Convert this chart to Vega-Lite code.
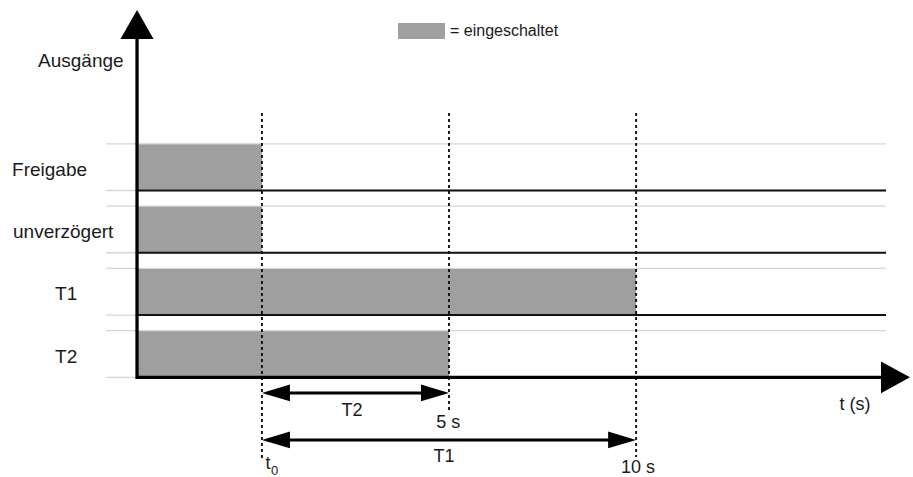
{
  "$schema": "https://vega.github.io/schema/vega-lite/v6.json",
  "width": 913,
  "height": 477,
  "padding": 0,
  "autosize": {"type": "none"},
  "background": "white",
  "config": {"view": {"stroke": null}, "text": {"font": "Liberation Sans", "color": "#1a1a1a"}},
  "datasets": {
    "grid": [{"y": 3.75}, {"y": 3}, {"y": 2.75}, {"y": 2}, {"y": 1.75}, {"y": 1}, {"y": 0.75}, {"y": 0}],
    "bars": [
      {"signal": "Freigabe", "start": -3.338, "end": 0, "lo": 3, "hi": 3.75},
      {"signal": "unverzögert", "start": -3.338, "end": 0, "lo": 2, "hi": 2.75},
      {"signal": "T1", "start": -3.338, "end": 10, "lo": 1, "hi": 1.75},
      {"signal": "T2", "start": -3.338, "end": 5, "lo": 0, "hi": 0.75}
    ],
    "swatch": [{"start": 3.637, "end": 4.893, "lo": 5.434, "hi": 5.691}],
    "baselines": [{"y": 3}, {"y": 2}, {"y": 1}],
    "vdash": [
      {"t": 0, "top": 4.245, "bottom": -1.294},
      {"t": 5, "top": 4.245, "bottom": -0.572},
      {"t": 10, "top": 4.245, "bottom": -1.278}
    ],
    "spans": [
      {"name": "T2", "start": 0.15, "end": 4.85, "y": -0.2505},
      {"name": "T1", "start": 0.15, "end": 9.85, "y": -1.005}
    ],
    "heads": [
      {"kind": "right", "x": 5, "y": -0.2505},
      {"kind": "left", "x": 0, "y": -0.2505},
      {"kind": "right", "x": 10, "y": -1.005},
      {"kind": "left", "x": 0, "y": -1.005}
    ],
    "leftLabels": [
      {"label": "Ausgänge", "x": -5.984, "y": 4.99},
      {"label": "Freigabe", "x": -6.678, "y": 3.234},
      {"label": "unverzögert", "x": -6.652, "y": 2.234},
      {"label": "T1", "x": -5.529, "y": 1.243},
      {"label": "T2", "x": -5.529, "y": 0.226}
    ],
    "centerLabels": [
      {"label": "T2", "x": 2.408, "y": -0.62},
      {"label": "5 s", "x": 4.98, "y": -0.817},
      {"label": "T1", "x": 4.867, "y": -1.354},
      {"label": "10 s", "x": 10.05, "y": -1.535},
      {"label": "t (s)", "x": 15.85, "y": -0.524},
      {"label": "t", "x": 0.16, "y": -1.47}
    ]
  },
  "layer": [
    {
      "data": {"name": "bars"},
      "mark": {"type": "rect", "color": "#9f9f9f"},
      "encoding": {
        "x": {"field": "start", "type": "quantitative", "scale": {"domain": [-7, 17.4], "nice": false, "zero": false}, "axis": null},
        "x2": {"field": "end"},
        "y": {"field": "lo", "type": "quantitative", "scale": {"domain": [-1.6, 6.06], "nice": false, "zero": false}, "axis": null},
        "y2": {"field": "hi"}
      }
    },
    {
      "data": {"name": "swatch"},
      "mark": {"type": "rect", "color": "#9f9f9f"},
      "encoding": {
        "x": {"field": "start", "type": "quantitative"},
        "x2": {"field": "end"},
        "y": {"field": "lo", "type": "quantitative"},
        "y2": {"field": "hi"}
      }
    },
    {
      "data": {"name": "grid"},
      "mark": {"type": "rule", "color": "#d6d6d6", "strokeWidth": 1.4},
      "encoding": {
        "x": {"datum": -4.166, "type": "quantitative"},
        "x2": {"datum": 16.679},
        "y": {"field": "y", "type": "quantitative"}
      }
    },
    {
      "data": {"name": "baselines"},
      "mark": {"type": "rule", "color": "#111111", "strokeWidth": 2},
      "encoding": {
        "x": {"datum": -3.338, "type": "quantitative"},
        "x2": {"datum": 16.679},
        "y": {"field": "y", "type": "quantitative"}
      }
    },
    {
      "data": {"name": "vdash"},
      "mark": {"type": "rule", "color": "#111111", "strokeWidth": 1.9, "strokeDash": [3, 3]},
      "encoding": {
        "x": {"field": "t", "type": "quantitative"},
        "y": {"field": "top", "type": "quantitative"},
        "y2": {"field": "bottom"}
      }
    },
    {
      "data": {"values": [{"axis": "t"}]},
      "mark": {"type": "rule", "color": "#000000", "strokeWidth": 3.3},
      "encoding": {
        "x": {"datum": -3.338, "type": "quantitative"},
        "x2": {"datum": 16.8},
        "y": {"datum": 0, "type": "quantitative"}
      }
    },
    {
      "data": {"values": [{"axis": "Ausgänge"}]},
      "mark": {"type": "rule", "color": "#000000", "strokeWidth": 3.3},
      "encoding": {
        "x": {"datum": -3.338, "type": "quantitative"},
        "y": {"datum": -0.025, "type": "quantitative"},
        "y2": {"datum": 5.5}
      }
    },
    {
      "data": {"values": [{"x": 17.32, "y": 0}]},
      "mark": {"type": "point", "shape": "M0,0L-2,-1.1L-2,1.1Z", "size": 841, "filled": true, "color": "#000000", "opacity": 1},
      "encoding": {
        "x": {"field": "x", "type": "quantitative"},
        "y": {"field": "y", "type": "quantitative"}
      }
    },
    {
      "data": {"values": [{"x": -3.338, "y": 5.9}]},
      "mark": {"type": "point", "shape": "M0,0L-1.14,2L1.14,2Z", "size": 841, "filled": true, "color": "#000000", "opacity": 1},
      "encoding": {
        "x": {"field": "x", "type": "quantitative"},
        "y": {"field": "y", "type": "quantitative"}
      }
    },
    {
      "data": {"name": "spans"},
      "mark": {"type": "rule", "color": "#000000", "strokeWidth": 3},
      "encoding": {
        "x": {"field": "start", "type": "quantitative"},
        "x2": {"field": "end"},
        "y": {"field": "y", "type": "quantitative"}
      }
    },
    {
      "data": {"name": "heads"},
      "transform": [{"filter": "datum.kind === 'right'"}],
      "mark": {"type": "point", "shape": "M0,0L-2,-0.6L-2,0.6Z", "size": 784, "filled": true, "color": "#000000", "opacity": 1},
      "encoding": {
        "x": {"field": "x", "type": "quantitative"},
        "y": {"field": "y", "type": "quantitative"}
      }
    },
    {
      "data": {"name": "heads"},
      "transform": [{"filter": "datum.kind === 'left'"}],
      "mark": {"type": "point", "shape": "M0,0L2,-0.6L2,0.6Z", "size": 784, "filled": true, "color": "#000000", "opacity": 1},
      "encoding": {
        "x": {"field": "x", "type": "quantitative"},
        "y": {"field": "y", "type": "quantitative"}
      }
    },
    {
      "data": {"name": "leftLabels"},
      "mark": {"type": "text", "align": "left", "baseline": "alphabetic", "fontSize": 19},
      "encoding": {
        "x": {"field": "x", "type": "quantitative"},
        "y": {"field": "y", "type": "quantitative"},
        "text": {"field": "label"}
      }
    },
    {
      "data": {"name": "centerLabels"},
      "mark": {"type": "text", "align": "center", "baseline": "alphabetic", "fontSize": 18},
      "encoding": {
        "x": {"field": "x", "type": "quantitative"},
        "y": {"field": "y", "type": "quantitative"},
        "text": {"field": "label"}
      }
    },
    {
      "data": {"values": [{"label": "0", "x": 0.34, "y": -1.575}]},
      "mark": {"type": "text", "align": "center", "baseline": "alphabetic", "fontSize": 13},
      "encoding": {
        "x": {"field": "x", "type": "quantitative"},
        "y": {"field": "y", "type": "quantitative"},
        "text": {"field": "label"}
      }
    },
    {
      "data": {"values": [{"label": "= eingeschaltet", "x": 5.027, "y": 5.48}]},
      "mark": {"type": "text", "align": "left", "baseline": "alphabetic", "fontSize": 16},
      "encoding": {
        "x": {"field": "x", "type": "quantitative"},
        "y": {"field": "y", "type": "quantitative"},
        "text": {"field": "label"}
      }
    }
  ]
}
